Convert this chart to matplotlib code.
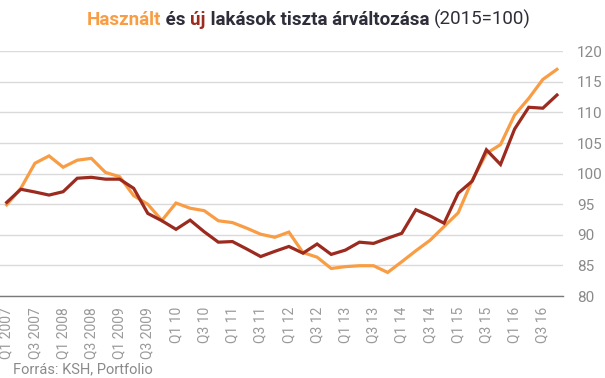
import matplotlib
matplotlib.use("Agg")
import matplotlib.pyplot as plt
import numpy as np

# Quarterly price index, 2015=100 (Q1 2007 - Q4 2016)
quarters = ["Q1 2007", "Q2 2007", "Q3 2007", "Q4 2007",
            "Q1 2008", "Q2 2008", "Q3 2008", "Q4 2008",
            "Q1 2009", "Q2 2009", "Q3 2009", "Q4 2009"]
for yy in range(10, 17):
    quarters += ["Q1 %d" % yy, "Q2 %d" % yy, "Q3 %d" % yy, "Q4 %d" % yy]

used = [94.9, 97.6, 101.7, 102.9, 101.05, 102.2, 102.5, 100.2, 99.5, 96.4,
        95.0, 92.35, 95.2, 94.35, 93.95, 92.3, 92.0, 91.1, 90.1, 89.6,
        90.45, 87.1, 86.35, 84.5, 84.8, 84.95, 84.95, 83.85, 85.6, 87.4,
        89.1, 91.35, 93.6, 98.95, 103.3, 104.75, 109.6, 112.3, 115.4, 117.05]

new = [95.3, 97.45, 97.0, 96.5, 97.05, 99.25, 99.4, 99.1, 99.1, 97.6,
       93.5, 92.3, 90.9, 92.4, 90.5, 88.8, 88.9, 87.7, 86.45, 87.3,
       88.1, 87.0, 88.5, 86.8, 87.5, 88.8, 88.6, 89.45, 90.25, 94.1,
       93.1, 91.9, 96.8, 98.8, 103.9, 101.5, 107.3, 110.85, 110.7, 112.85]

yticks = [80, 85, 90, 95, 100, 105, 110, 115, 120]

c_used = "#F99D45"
c_new = "#9B2A1F"
c_text = "#2E2E3A"
c_grey = "#8A8A8A"

plt.rcParams["font.family"] = ["Roboto", "DejaVu Sans"]

fig = plt.figure(figsize=(6.05, 3.78), dpi=100)
ax = fig.add_axes([0.0, 0.2169, 0.9306, 0.6474])

x = np.arange(len(quarters))
ax.plot(x, used, color=c_used, lw=2.3, solid_joinstyle="miter", zorder=3)
ax.plot(x, new, color=c_new, lw=2.3, solid_joinstyle="miter", zorder=4)

ax.set_xlim(-0.475, 39.43)
ax.set_ylim(80, 120)

ax.set_yticks(yticks)
ax.yaxis.tick_right()
ax.tick_params(axis="y", length=0, pad=10, labelsize=11, labelcolor=c_grey)
for lab in ax.get_yticklabels():
    lab.set_horizontalalignment("left")
ax.grid(axis="y", color="#DADADA", lw=1)
ax.set_axisbelow(True)

ax.set_xticks(x[::2])
ax.set_xticklabels(quarters[::2], rotation=90, va="top", ha="center")
ax.tick_params(axis="x", length=0, pad=8, labelsize=10, labelcolor="#9A9A9A")

for s in ["top", "left", "right"]:
    ax.spines[s].set_visible(False)
ax.spines["bottom"].set_color("#7A7A7A")
ax.spines["bottom"].set_linewidth(1)

# multi-coloured title
parts = [("Használt", c_used, "bold"), (" és ", c_text, "bold"),
         ("új", c_new, "bold"), (" lakások tiszta árváltozása ", c_text, "bold"),
         ("(2015=100)", c_text, "normal")]
fig.canvas.draw()
r = fig.canvas.get_renderer()
texts = []
for s, c, w in parts:
    t = fig.text(0, 0.935, s, color=c, fontweight=w, fontsize=13.5, va="baseline")
    texts.append(t)
widths = [t.get_window_extent(r).width for t in texts]
xpos = (605 * 0.51 - sum(widths) / 2)
for t, w in zip(texts, widths):
    t.set_x(xpos / 605)
    xpos += w

fig.text(13 / 605, 0.012, "Forrás: KSH, Portfolio", color=c_grey, fontsize=10.5)

plt.savefig("out.png", dpi=100)
